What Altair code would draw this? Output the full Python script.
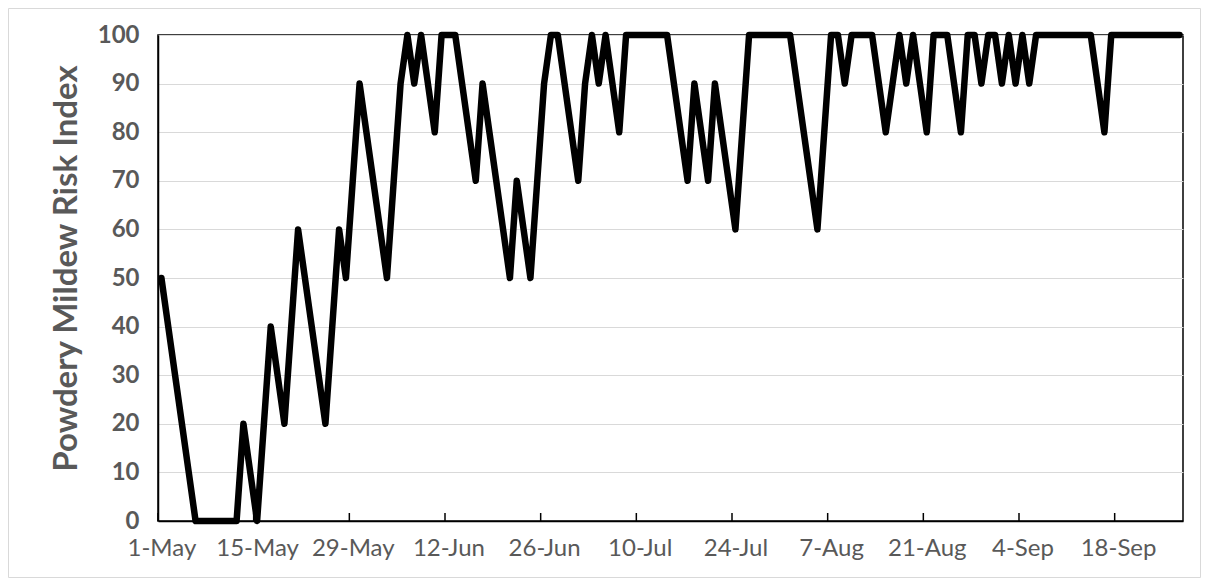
import json
import altair as alt
import pandas as pd

# Daily powdery mildew risk index, 1-May .. 27-Sep
may_values = [50, 40, 30, 20, 10, 0, 0, 0, 0, 0, 0, 0, 20, 10, 0, 20, 40, 30, 20, 40,
              60, 50, 40, 30, 20, 40, 60, 50, 70, 90, 80]
jun_values = [70, 60, 50, 70, 90, 100, 90, 100, 90, 80, 100, 100, 100, 90, 80, 70, 90, 80,
              70, 60, 50, 70, 60, 50, 70, 90, 100, 100, 90, 80]
jul_values = [70, 90, 100, 90, 100, 90, 80, 100, 100, 100, 100, 100, 100, 100, 90, 80, 70,
              90, 80, 70, 90, 80, 70, 60, 80, 100, 100, 100, 100, 100, 100]
aug_values = [100, 90, 80, 70, 60, 80, 100, 100, 90, 100, 100, 100, 100, 90, 80, 90, 100,
              90, 100, 90, 80, 100, 100, 100, 90, 80, 100, 100, 90, 100, 100]
sep_values = [90, 100, 90, 100, 90, 100, 100, 100, 100, 100, 100, 100, 100, 100, 90, 80,
              100, 100, 100, 100, 100, 100, 100, 100, 100, 100, 100]

tick_labels = ["1-May", "15-May", "29-May", "12-Jun", "26-Jun", "10-Jul", "24-Jul",
               "7-Aug", "21-Aug", "4-Sep", "18-Sep"]
tick_days = [0, 14, 28, 42, 56, 70, 84, 98, 112, 126, 140]

values = may_values + jun_values + jul_values + aug_values + sep_values
df = pd.DataFrame({"day": list(range(len(values))), "risk": values})
ticks_df = pd.DataFrame({"edge": [d - 0.5 for d in tick_days]})

W, H = 1025, 486
FONT = "Lato"
GREY = "#595959"

xscale = alt.Scale(domain=[-0.5, len(values) - 0.5], nice=False, zero=False)
yscale = alt.Scale(domain=[0, 100], nice=False)

label_expr = json.dumps(tick_labels) + "[round(datum.value / 14)]"

frame = alt.Chart(pd.DataFrame({"a": [0]})).mark_rect(
    filled=False, stroke="#d9d9d9", strokeWidth=1
).encode(
    x=alt.value(-149.5), x2=alt.value(W + 17.5),
    y=alt.value(-26.5), y2=alt.value(H + 56.5)
)

line = alt.Chart(df).mark_line(
    color="black", strokeWidth=6.5, strokeJoin="round", strokeCap="round"
).encode(
    x=alt.X("day:Q", scale=xscale,
            axis=alt.Axis(values=tick_days, labelExpr=label_expr, title=None,
                          grid=False, ticks=False, domain=True, domainColor="black",
                          domainWidth=1.5, labelFont=FONT, labelFontSize=24,
                          labelColor=GREY, labelPadding=15, labelFlush=False,
                          labelOverlap=False)),
    y=alt.Y("risk:Q", scale=yscale,
            axis=alt.Axis(values=list(range(0, 101, 10)), title="Powdery Mildew Risk Index",
                          grid=True, gridColor="#d9d9d9", gridWidth=1, ticks=False,
                          domain=True, domainColor="black", domainWidth=1.5,
                          labelFont=FONT, labelFontSize=24, labelFontWeight="bold",
                          labelColor=GREY, labelPadding=19, titleFont=FONT,
                          titleFontSize=33, titleFontWeight="bold", titleColor=GREY,
                          titlePadding=14, titleY=H / 2 - 10))
)

tickmarks = alt.Chart(ticks_df).mark_rule(color="black", strokeWidth=1.5).encode(
    x=alt.X("edge:Q", scale=xscale),
    y=alt.value(H - 8), y2=alt.value(H)
)

chart = alt.layer(frame, tickmarks, line).properties(
    width=W, height=H,
    padding={"left": 150, "top": 27, "right": 18, "bottom": 57},
    autosize=alt.AutoSizeParams(type="none"),
    background="white"
).configure_view(stroke="black", strokeWidth=1.5)

chart.save("out.html", embed_options={"renderer": "svg", "actions": False})
